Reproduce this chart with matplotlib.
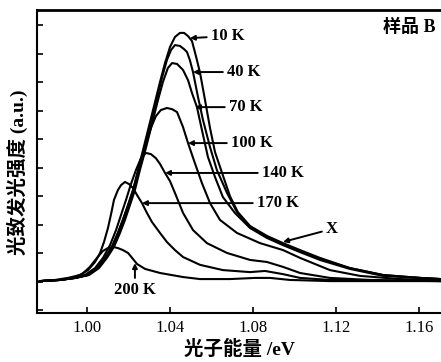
import matplotlib
matplotlib.use("Agg")
import matplotlib.pyplot as plt
import numpy as np

# photoluminescence spectra of sample B at several temperatures
e_10k = [0.9774, 0.9871, 0.9943, 1.0001, 1.0049, 1.0088, 1.0121, 1.0150, 1.0174, 1.0199,
         1.0223, 1.0247, 1.0271, 1.0305, 1.0329, 1.0353, 1.0377, 1.0401, 1.0425, 1.0449,
         1.0469, 1.0488, 1.0507, 1.0521, 1.0531, 1.0546, 1.0570, 1.0594, 1.0618, 1.0652,
         1.0690, 1.0728, 1.0787, 1.0868, 1.0946, 1.1028, 1.1124, 1.1268, 1.1428, 1.1606, 1.1707]
i_10k = [1.10, 1.14, 1.21, 1.31, 1.55, 1.90, 2.28, 2.76, 3.21, 3.72,
         4.24, 4.93, 5.62, 6.59, 7.28, 7.97, 8.62, 9.17, 9.52, 9.66,
         9.66, 9.55, 9.38, 9.00, 8.72, 8.28, 7.34, 6.38, 5.55, 4.83,
         4.03, 3.48, 3.00, 2.66, 2.41, 2.17, 1.90, 1.55, 1.31, 1.21, 1.17]

e_40k = [0.9774, 0.9871, 0.9943, 1.0006, 1.0054, 1.0093, 1.0126, 1.0155, 1.0179, 1.0203,
         1.0227, 1.0252, 1.0276, 1.0309, 1.0338, 1.0362, 1.0386, 1.0406, 1.0425, 1.0449,
         1.0469, 1.0483, 1.0497, 1.0512, 1.0536, 1.0560, 1.0594, 1.0627, 1.0676, 1.0724,
         1.0787, 1.0868, 1.0946, 1.1028, 1.1124, 1.1268, 1.1428, 1.1606, 1.1707]
i_40k = [1.10, 1.14, 1.21, 1.31, 1.55, 1.90, 2.28, 2.76, 3.21, 3.72,
         4.24, 4.93, 5.62, 6.59, 7.41, 8.10, 8.72, 9.07, 9.24, 9.21,
         9.10, 9.00, 8.72, 8.31, 7.45, 6.66, 5.72, 4.93, 4.14, 3.48,
         2.97, 2.62, 2.38, 2.14, 1.86, 1.55, 1.31, 1.21, 1.17]

e_70k = [0.9774, 0.9871, 0.9948, 1.0011, 1.0059, 1.0097, 1.0131, 1.0160, 1.0184, 1.0208,
         1.0232, 1.0256, 1.0285, 1.0319, 1.0343, 1.0367, 1.0391, 1.0411, 1.0435, 1.0464,
         1.0488, 1.0507, 1.0531, 1.0555, 1.0584, 1.0618, 1.0656, 1.0714, 1.0787, 1.0868,
         1.0946, 1.1028, 1.1124, 1.1268, 1.1428, 1.1606, 1.1707]
i_70k = [1.10, 1.14, 1.21, 1.31, 1.55, 1.90, 2.28, 2.76, 3.21, 3.72,
         4.24, 4.93, 5.69, 6.66, 7.34, 7.97, 8.45, 8.62, 8.59, 8.38,
         8.03, 7.59, 7.10, 6.31, 5.38, 4.69, 4.00, 3.45, 2.93, 2.59,
         2.34, 2.10, 1.83, 1.52, 1.28, 1.21, 1.17]

e_100k = [0.9774, 0.9871, 0.9943, 1.0001, 1.0049, 1.0088, 1.0121, 1.0150, 1.0174, 1.0199,
          1.0223, 1.0252, 1.0281, 1.0309, 1.0333, 1.0357, 1.0386, 1.0411, 1.0435, 1.0464,
          1.0488, 1.0521, 1.0555, 1.0594, 1.0642, 1.0724, 1.0835, 1.0946, 1.1028, 1.1172,
          1.1317, 1.1509, 1.1707]
i_100k = [1.10, 1.14, 1.21, 1.31, 1.55, 1.90, 2.28, 2.76, 3.21, 3.72,
          4.24, 5.00, 5.72, 6.38, 6.79, 7.00, 7.07, 7.03, 6.93, 6.41,
          5.86, 5.17, 4.48, 3.79, 3.21, 2.76, 2.41, 2.17, 1.90, 1.48,
          1.28, 1.17, 1.14]

e_140k = [0.9774, 0.9871, 0.9938, 0.9991, 1.0040, 1.0078, 1.0112, 1.0141, 1.0165, 1.0189,
          1.0213, 1.0237, 1.0261, 1.0285, 1.0309, 1.0333, 1.0353, 1.0377, 1.0401, 1.0425,
          1.0464, 1.0512, 1.0579, 1.0676, 1.0787, 1.0868, 1.0946, 1.1028, 1.1172, 1.1365, 1.1707]
i_140k = [1.10, 1.14, 1.21, 1.31, 1.55, 1.90, 2.34, 2.86, 3.38, 3.90,
          4.45, 4.93, 5.34, 5.52, 5.48, 5.34, 5.14, 4.83, 4.55, 4.14,
          3.45, 2.86, 2.41, 2.07, 1.83, 1.76, 1.59, 1.38, 1.21, 1.14, 1.10]

e_170k = [0.9774, 0.9847, 0.9909, 0.9967, 1.0006, 1.0040, 1.0064, 1.0083, 1.0102, 1.0117,
          1.0131, 1.0150, 1.0165, 1.0184, 1.0203, 1.0223, 1.0242, 1.0266, 1.0290, 1.0314,
          1.0353, 1.0386, 1.0425, 1.0464, 1.0546, 1.0656, 1.0787, 1.0859, 1.0946, 1.1028,
          1.1172, 1.1707]
i_170k = [1.10, 1.14, 1.21, 1.31, 1.48, 1.76, 2.07, 2.45, 2.93, 3.41,
          3.90, 4.24, 4.41, 4.52, 4.45, 4.31, 4.07, 3.79, 3.45, 3.14,
          2.76, 2.45, 2.17, 1.93, 1.66, 1.48, 1.41, 1.45, 1.34, 1.21,
          1.14, 1.10]

e_200k = [0.9774, 0.9871, 0.9929, 0.9977, 1.0015, 1.0049, 1.0078, 1.0102, 1.0126, 1.0150,
          1.0174, 1.0199, 1.0223, 1.0242, 1.0281, 1.0353, 1.0464, 1.0546, 1.0690, 1.0811,
          1.0883, 1.0979, 1.1172, 1.1707]
i_200k = [1.10, 1.14, 1.21, 1.34, 1.59, 1.90, 2.14, 2.24, 2.28, 2.24,
          2.17, 2.07, 1.86, 1.69, 1.52, 1.38, 1.24, 1.17, 1.17, 1.21,
          1.21, 1.14, 1.10, 1.10]

spectra = [(e_10k, i_10k), (e_40k, i_40k), (e_70k, i_70k), (e_100k, i_100k),
           (e_140k, i_140k), (e_170k, i_170k), (e_200k, i_200k)]

x_ticks = [1.00, 1.04, 1.08, 1.12, 1.16]

# label text, arrow tip (energy, intensity), text anchor
labels = [
    ("10 K", (1.0497, 9.48), (1.0598, 9.55)),
    ("40 K", (1.0512, 8.31), (1.0676, 8.31)),
    ("70 K", (1.0521, 7.10), (1.0685, 7.10)),
    ("100 K", (1.0488, 5.86), (1.0695, 5.86)),
    ("140 K", (1.0377, 4.83), (1.0844, 4.83)),
    ("170 K", (1.0266, 3.79), (1.0820, 3.79)),
    ("X", (1.0946, 2.45), (1.1153, 2.90)),
]

serif = ["Liberation Serif", "Noto Sans CJK SC"]

fig = plt.figure(figsize=(4.41, 3.62), dpi=100)
ax = fig.add_axes([37 / 441, 49 / 362, 406 / 441, 303 / 362])

for e, i in spectra:
    ax.plot(e, i, color="black", lw=1.5, solid_joinstyle="round")

arrow = dict(arrowstyle="-|>", color="black", lw=1.4, mutation_scale=7, shrinkA=1, shrinkB=0)
for text, tip, pos in labels:
    ax.annotate(text, xy=tip, xytext=pos, ha="left", va="center",
                fontsize=12, fontweight="bold", family=serif, arrowprops=arrow)

ax.annotate("200 K", xy=(1.0232, 1.72), xytext=(1.0232, 0.79), ha="center", va="center",
            fontsize=12, fontweight="bold", family=serif, arrowprops=arrow)

ax.text(1.168, 9.86, "样品 B", ha="right", va="center", fontsize=13,
        fontweight="bold", family=serif)

ax.set_xlim(0.976, 1.1717)
ax.set_ylim(0, 10.45)
ax.set_xticks(x_ticks)
ax.set_xticklabels([f"{t:.2f}" for t in x_ticks], family="Liberation Serif", fontsize=12)
ax.set_yticks(np.linspace(0.1, 9.93, 11))
ax.set_yticklabels([])
ax.tick_params(direction="in", length=4, width=1.2, pad=5)

ax.spines["right"].set_visible(False)
ax.spines["top"].set_linewidth(2)
ax.spines["left"].set_linewidth(1.5)
ax.spines["bottom"].set_linewidth(1.5)

ax.set_xlabel("光子能量 /eV", family=serif, fontsize=14, fontweight="bold", labelpad=3)
ax.set_ylabel("光致发光强度 (a.u.)", family=serif, fontsize=14, fontweight="bold")
ax.yaxis.set_label_coords(-0.022, 0.465)

plt.savefig("out.png", dpi=100)
plt.close()
